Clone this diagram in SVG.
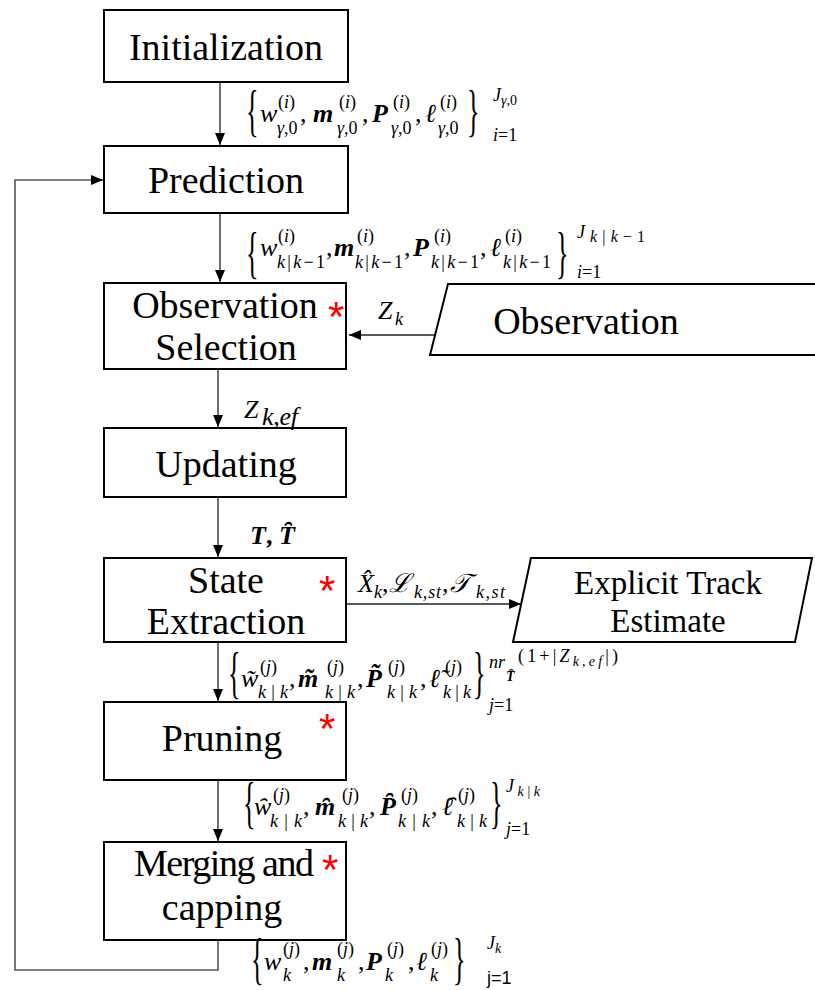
<svg xmlns="http://www.w3.org/2000/svg" width="815" height="990" viewBox="0 0 815 990">
<style>
.box{fill:#fff;stroke:#000;stroke-width:2}
.nt{font-family:"Liberation Serif",serif;font-size:38px;text-anchor:middle;fill:#000}
.nt2{font-family:"Liberation Serif",serif;font-size:33px;text-anchor:middle;fill:#000}
.star{font-family:"Liberation Sans",sans-serif;font-size:42px;fill:#f00}
.m{font-family:"Liberation Serif","DejaVu Serif",serif;font-style:italic;font-size:26px;fill:#000}
.b{font-weight:bold}
.s{font-size:18px}
.xs{font-size:14px}
.u{font-style:normal}
.br{font-family:"Liberation Serif",serif;font-size:58px;fill:#000}
.c{stroke:#222;stroke-width:1.3;fill:none}
.loop{stroke:#555;stroke-width:1.6;fill:none}
</style>
<defs>
<marker id="ah" markerWidth="12" markerHeight="10" refX="12" refY="5" orient="auto" markerUnits="userSpaceOnUse"><path d="M0,0 L12,5 L0,10 z" fill="#000"/></marker>
</defs>

<g id="connectors">
<line class="c" x1="220" y1="82" x2="220" y2="145" marker-end="url(#ah)"/>
<line class="c" x1="220" y1="213" x2="220" y2="282" marker-end="url(#ah)"/>
<line class="c" x1="435" y1="335" x2="349" y2="335" marker-end="url(#ah)"/>
<line class="c" x1="218" y1="369" x2="218" y2="427" marker-end="url(#ah)"/>
<line class="c" x1="218" y1="497" x2="218" y2="557" marker-end="url(#ah)"/>
<line class="c" x1="346" y1="604" x2="521" y2="604" marker-end="url(#ah)"/>
<line class="c" x1="218" y1="642" x2="218" y2="701" marker-end="url(#ah)"/>
<line class="c" x1="218" y1="780" x2="218" y2="841" marker-end="url(#ah)"/>
<path class="loop" d="M218,940 V970 H15 V180 H103" marker-end="url(#ah)"/>
</g>

<g id="init"><rect class="box" x="104" y="10" width="244" height="72"/><text class="nt" x="226" y="60">Initialization</text></g>
<g id="prediction"><rect class="box" x="104" y="146" width="244" height="67"/><text class="nt" x="226" y="193">Prediction</text></g>
<g id="obs-selection"><rect class="box" x="104" y="283" width="242" height="86"/><text class="nt" x="225" y="318">Observation</text><text class="nt" x="226" y="360">Selection</text><text class="star" x="328" y="331">*</text></g>
<g id="observation"><polygon class="box" points="448,284 840,284 822,355 430,355"/><text class="nt" x="586" y="334">Observation</text></g>
<g id="updating"><rect class="box" x="104" y="428" width="242" height="69"/><text class="nt" x="226" y="477">Updating</text></g>
<g id="state-extraction"><rect class="box" x="104" y="558" width="242" height="84"/><text class="nt" x="226" y="593">State</text><text class="nt" x="226" y="634">Extraction</text><text class="star" x="319" y="605">*</text></g>
<g id="explicit"><polygon class="box" points="531,558 812,558 795,642 513,642"/><text class="nt2" x="668" y="594">Explicit Track</text><text class="nt2" x="668" y="632">Estimate</text></g>
<g id="pruning"><rect class="box" x="104" y="702" width="242" height="78"/><text class="nt" x="222" y="751">Pruning</text><text class="star" x="319" y="743">*</text></g>
<g id="merging"><rect class="box" x="104" y="842" width="242" height="98"/><text class="nt" x="224" y="876" textLength="180">Merging and</text><text class="nt" x="222" y="920">capping</text><text class="star" x="322" y="884">*</text></g>

<g id="labels">
<!-- formula 1 -->
<text class="br" transform="translate(246,130) scale(0.45,1)">{</text>
<text class="m" x="260" y="122">w</text>
<text class="m s" x="278" y="108"><tspan class="u">(</tspan>i<tspan class="u">)</tspan></text>
<text class="m s" x="277" y="134">γ<tspan class="u">,0</tspan></text>
<text class="m u" x="300" y="122">,</text>
<text class="m b" x="313" y="122">m</text>
<text class="m s" x="339" y="108"><tspan class="u">(</tspan>i<tspan class="u">)</tspan></text>
<text class="m s" x="337" y="134">γ<tspan class="u">,0</tspan></text>
<text class="m u" x="362" y="122">,</text>
<text class="m b" x="372" y="122">P</text>
<text class="m s" x="393" y="108"><tspan class="u">(</tspan>i<tspan class="u">)</tspan></text>
<text class="m s" x="391" y="134">γ<tspan class="u">,0</tspan></text>
<text class="m u" x="415" y="122">,</text>
<text class="m" x="425" y="122">ℓ</text>
<text class="m s" x="440" y="108"><tspan class="u">(</tspan>i<tspan class="u">)</tspan></text>
<text class="m s" x="438" y="134">γ<tspan class="u">,0</tspan></text>
<text class="br" transform="translate(467,130) scale(0.45,1)">}</text>
<text class="m s" x="493" y="101">J<tspan class="xs" dy="4">γ</tspan><tspan class="xs u">,0</tspan></text>
<text class="m s" x="493" y="141">i<tspan class="u">=1</tspan></text>

<!-- formula 2 -->
<text class="br" transform="translate(246,272) scale(0.45,1)">{</text>
<text class="m" x="260" y="256">w</text>
<text class="m s" x="278" y="242"><tspan class="u">(</tspan>i<tspan class="u">)</tspan></text>
<text class="m s" x="277" y="268" textLength="48">k<tspan class="u">|</tspan>k<tspan class="u">−1</tspan></text>
<text class="m u" x="326" y="256">,</text>
<text class="m b" x="334" y="256">m</text>
<text class="m s" x="357" y="242"><tspan class="u">(</tspan>i<tspan class="u">)</tspan></text>
<text class="m s" x="355" y="268" textLength="48">k<tspan class="u">|</tspan>k<tspan class="u">−1</tspan></text>
<text class="m u" x="404" y="256">,</text>
<text class="m b" x="413" y="256">P</text>
<text class="m s" x="434" y="242"><tspan class="u">(</tspan>i<tspan class="u">)</tspan></text>
<text class="m s" x="431" y="268" textLength="48">k<tspan class="u">|</tspan>k<tspan class="u">−1</tspan></text>
<text class="m u" x="480" y="256">,</text>
<text class="m" x="490" y="256">ℓ</text>
<text class="m s" x="505" y="242"><tspan class="u">(</tspan>i<tspan class="u">)</tspan></text>
<text class="m s" x="503" y="268" textLength="48">k<tspan class="u">|</tspan>k<tspan class="u">−1</tspan></text>
<text class="br" transform="translate(556,272) scale(0.45,1)">}</text>
<text class="m s" x="577" y="238" textLength="68">J<tspan font-size="16" dy="4">k</tspan><tspan font-size="16" class="u">|</tspan><tspan font-size="16">k</tspan><tspan font-size="16" class="u">−1</tspan></text>
<text class="m s" x="577" y="278">i<tspan class="u">=1</tspan></text>

<!-- Z_k -->
<text class="m" x="378" y="319">Z</text>
<text class="m s" x="395" y="325">k</text>

<!-- Z_k,ef -->
<text class="m" x="244" y="418">Z</text>
<text class="m" x="262" y="425" font-size="20" textLength="36">k<tspan class="u">,</tspan>ef</text>

<!-- T, T hat -->
<text class="m b" x="250" y="544" font-size="28">T<tspan class="u">, </tspan>T&#x0311;</text>

<!-- X hat, L, T -->
<text class="m" x="358" y="592" font-size="23">X&#x0302;</text>
<text class="m s" x="374" y="598">k</text>
<text class="m u" x="382" y="592" font-size="23">,</text>
<text class="m" x="389" y="592" font-size="23">ℒ</text>
<text class="m s" x="414" y="598" textLength="27">k<tspan class="u">,</tspan>st</text>
<text class="m u" x="442" y="592" font-size="23">,</text>
<text class="m" x="450" y="592" font-size="23">𝒯</text>
<text class="m s" x="476" y="598" textLength="29">k<tspan class="u">,</tspan>st</text>

<!-- formula 3 -->
<text class="br" transform="translate(228,692) scale(0.45,1)">{</text>
<text class="m" x="241" y="687">w&#x0303;</text>
<text class="m s" x="260" y="673"><tspan class="u">(</tspan>j<tspan class="u">)</tspan></text>
<text class="m s" x="258" y="698" textLength="30">k<tspan class="u">|</tspan>k</text>
<text class="m u" x="289" y="687">,</text>
<text class="m b" x="298" y="687">m&#x0303;</text>
<text class="m s" x="327" y="673"><tspan class="u">(</tspan>j<tspan class="u">)</tspan></text>
<text class="m s" x="325" y="698" textLength="30">k<tspan class="u">|</tspan>k</text>
<text class="m u" x="357" y="687">,</text>
<text class="m b" x="366" y="687">P&#x0303;</text>
<text class="m s" x="388" y="673"><tspan class="u">(</tspan>j<tspan class="u">)</tspan></text>
<text class="m s" x="387" y="698" textLength="30">k<tspan class="u">|</tspan>k</text>
<text class="m u" x="420" y="687">,</text>
<text class="m" x="429" y="687">ℓ&#x0303;</text>
<text class="m s" x="445" y="673"><tspan class="u">(</tspan>j<tspan class="u">)</tspan></text>
<text class="m s" x="443" y="698" textLength="28">k<tspan class="u">|</tspan>k</text>
<text class="br" transform="translate(473,692) scale(0.45,1)">}</text>
<text class="m s" x="489" y="668">nr</text>
<text class="m b xs" x="506" y="681">T&#x0311;</text>
<text class="m s" x="518" y="662" textLength="100"><tspan class="u">(1+|</tspan>Z<tspan class="xs" dy="4">k</tspan><tspan class="xs u">,</tspan><tspan class="xs">ef</tspan><tspan class="u" dy="-4">|)</tspan></text>
<text class="m s" x="489" y="711">j<tspan class="u">=1</tspan></text>

<!-- formula 4 -->
<text class="br" transform="translate(243,822) scale(0.45,1)">{</text>
<text class="m" x="254" y="815">w&#x0311;</text>
<text class="m s" x="273" y="801"><tspan class="u">(</tspan>j<tspan class="u">)</tspan></text>
<text class="m s" x="270" y="827" textLength="32">k<tspan class="u">|</tspan>k</text>
<text class="m u" x="303" y="815">,</text>
<text class="m b" x="315" y="815">m&#x0311;</text>
<text class="m s" x="342" y="801"><tspan class="u">(</tspan>j<tspan class="u">)</tspan></text>
<text class="m s" x="338" y="827" textLength="30">k<tspan class="u">|</tspan>k</text>
<text class="m u" x="369" y="815">,</text>
<text class="m b" x="380" y="815">P&#x0311;</text>
<text class="m s" x="401" y="801"><tspan class="u">(</tspan>j<tspan class="u">)</tspan></text>
<text class="m s" x="398" y="827" textLength="32">k<tspan class="u">|</tspan>k</text>
<text class="m u" x="431" y="815">,</text>
<text class="m" x="442" y="815">ℓ&#x0311;</text>
<text class="m s" x="458" y="801"><tspan class="u">(</tspan>j<tspan class="u">)</tspan></text>
<text class="m s" x="457" y="827" textLength="30">k<tspan class="u">|</tspan>k</text>
<text class="br" transform="translate(490,822) scale(0.45,1)">}</text>
<text class="m s" x="506" y="792" textLength="34">J<tspan class="xs" dy="4">k</tspan><tspan class="xs u">|</tspan><tspan class="xs">k</tspan></text>
<text class="m s" x="506" y="835">j<tspan class="u">=1</tspan></text>

<!-- formula 5 -->
<text class="br" transform="translate(251,978) scale(0.45,1)">{</text>
<text class="m" x="264" y="970">w</text>
<text class="m s" x="283" y="955"><tspan class="u">(</tspan>j<tspan class="u">)</tspan></text>
<text class="m s" x="283" y="981">k</text>
<text class="m u" x="303" y="970">,</text>
<text class="m b" x="312" y="970">m</text>
<text class="m s" x="337" y="955"><tspan class="u">(</tspan>j<tspan class="u">)</tspan></text>
<text class="m s" x="337" y="981">k</text>
<text class="m u" x="358" y="970">,</text>
<text class="m b" x="366" y="970">P</text>
<text class="m s" x="387" y="955"><tspan class="u">(</tspan>j<tspan class="u">)</tspan></text>
<text class="m s" x="385" y="981">k</text>
<text class="m u" x="408" y="970">,</text>
<text class="m" x="416" y="970">ℓ</text>
<text class="m s" x="431" y="955"><tspan class="u">(</tspan>j<tspan class="u">)</tspan></text>
<text class="m s" x="430" y="981">k</text>
<text class="br" transform="translate(453,978) scale(0.45,1)">}</text>
<text class="m s" x="487" y="949">J<tspan class="xs" dy="4">k</tspan></text>
<text class="s" x="487" y="984" font-family="'Liberation Sans',sans-serif">j=1</text>
</g>
</svg>
